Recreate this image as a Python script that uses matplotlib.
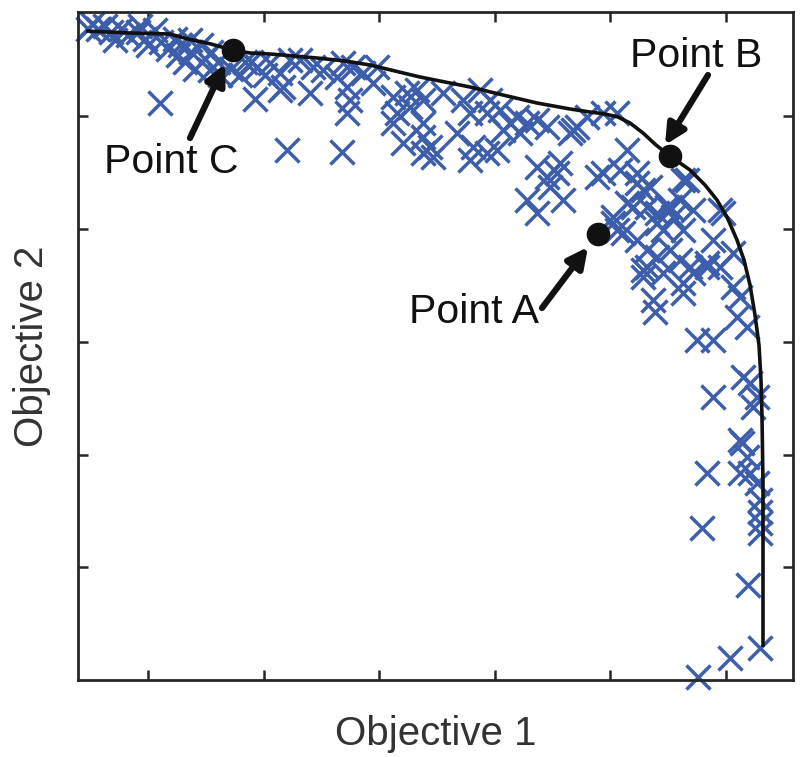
import matplotlib
matplotlib.use("Agg")
import matplotlib.pyplot as plt

plt.rcParams['font.family'] = ['Liberation Sans', 'DejaVu Sans']

# Scatter of candidate solutions (arbitrary units; axes are unlabeled)
obj1 = [10, 20, 33, 43, 50, 60, 67, 77, 70, 83, 90, 97, 100, 107, 113, 117, 123, 127, 133, 140, 153, 167, 173,
        14, 27, 62, 37, 112, 142, 162, 132, 102,
        82, 177, 202, 232, 209, 264,
        179, 192, 202, 205, 222, 235, 245, 259, 265, 269, 272, 269, 275, 285, 295, 299, 315, 319, 315, 329, 332, 339,
        325, 345, 345, 212, 187,
        365, 345, 385, 402, 412, 392, 409, 422, 432, 439, 449, 459, 425, 442, 469, 352, 355, 379, 395, 392, 409, 419,
        459, 469, 482, 495, 509, 449, 459, 485, 519, 345,
        525, 539, 499, 492, 549, 525, 479, 472, 559, 572, 592, 605, 642, 535, 545,
        542, 559, 565, 549, 535, 539, 555, 569, 579, 589, 595, 602, 609, 615, 605, 585, 579, 559, 569, 579, 592, 602,
        612, 635, 645, 655, 642, 629, 565, 585,
        565, 569, 575, 577, 605, 605, 615, 629, 655, 662, 659, 669, 619, 635, 665, 672, 679, 675, 635, 662,
        664, 669, 662, 672, 679, 682, 682, 682, 682, 629, 624, 670, 682, 652, 620]
obj2 = [651, 651, 648, 651, 645, 648, 641, 650, 635, 638, 631, 641, 625, 618, 628, 611, 635, 621, 628, 618, 611, 618, 618,
        656, 654, 654, 640, 640, 605, 605, 610, 635,
        577, 581, 590, 587, 530, 528,
        613, 617, 607, 593, 620, 613, 610, 603, 617, 593, 580, 567, 613, 607, 597, 613, 583, 567, 557, 587, 573, 590,
        537, 543, 527, 620, 605,
        587, 580, 580, 590, 580, 567, 567, 570, 557, 563, 557, 560, 550, 547, 553, 533, 523, 547, 533, 520, 527, 530,
        513, 503, 517, 550, 563, 480, 467, 480, 503, 557,
        567, 567, 553, 547, 530, 507, 507, 493, 507, 493, 473, 500, 470, 463, 447,
        510, 497, 490, 477, 457, 450, 473, 473, 467, 473, 463, 480, 500, 470, 450, 450, 457, 440, 430, 423, 430, 420,
        413, 440, 467, 427, 413, 417, 410, 407,
        403, 413, 380, 368, 397, 387, 407, 413, 393, 383, 363, 353, 340, 340, 303, 297, 283, 273, 283, 240,
        237, 223, 207, 207, 197, 180, 168, 157, 147, 207, 152, 95, 32, 22, 3]

# Pareto front curve
front1 = [8, 52, 92, 110, 133, 154, 172, 192, 239, 267, 292, 317, 342, 367, 392, 425, 459, 492, 512, 527, 540, 552,
          565, 578, 592, 612, 627, 639, 649, 659, 666, 672, 677, 681, 683, 684, 685, 685]
front2 = [649, 647, 646, 641, 636, 630, 627, 626, 622, 619, 615, 609, 603, 598, 593, 585, 577, 571, 568, 566, 563, 557,
          547, 535, 524, 510, 495, 480, 463, 440, 420, 395, 365, 335, 300, 263, 197, 33]

# Highlighted points
pt_names = ['Point A', 'Point B', 'Point C']
pt1 = [520, 592, 155]
pt2 = [446, 524, 630]
label1 = [396, 618, 93]
label2 = [368, 624, 518]
arrow_tail1 = [464, 630, 112]
arrow_tail2 = [372, 605, 542]
arrow_tip1 = [510, 587, 147]
arrow_tip2 = [433, 535, 616]

xticks = [70, 185.5, 301, 416.5, 532, 647.5]
yticks = [113, 225.5, 338, 451, 564]

fig = plt.figure(figsize=(8.0, 7.57), dpi=100)
ax = fig.add_axes([78/800, 77/757, 715/800, 668/757])

ax.scatter(obj1, obj2, marker='x', s=300, linewidths=2.5, color='#3c5eab', zorder=2, clip_on=False)
ax.plot(front1, front2, color='#111111', lw=2.6, zorder=3, solid_capstyle='butt', solid_joinstyle='round')
ax.plot(pt1, pt2, 'o', color='#111111', ms=16, zorder=4)

for name, lx, ly, tx, ty, hx, hy in zip(pt_names, label1, label2, arrow_tail1, arrow_tail2, arrow_tip1, arrow_tip2):
    ax.text(lx, ly, name, fontsize=29.5, ha='center', va='center', color='#111111', zorder=5)
    ax.annotate('', xy=(hx, hy), xytext=(tx, ty),
                arrowprops=dict(arrowstyle='-|>', lw=4.5, color='#111111', mutation_scale=30,
                                shrinkA=0, shrinkB=0), zorder=5)

ax.set_xlim(0, 715)
ax.set_ylim(0, 668)
ax.set_xticks(xticks)
ax.set_yticks(yticks)
ax.set_xticklabels([])
ax.set_yticklabels([])
ax.tick_params(direction='in', length=7, width=1.8, top=True, right=True, color='#262626')
for s in ax.spines.values():
    s.set_linewidth(2)
    s.set_color('#262626')

ax.set_xlabel('Objective 1', fontsize=29, color='#333333', labelpad=22)
ax.set_ylabel('Objective 2', fontsize=29, color='#333333', labelpad=16)

fig.savefig('out.png', dpi=100)
